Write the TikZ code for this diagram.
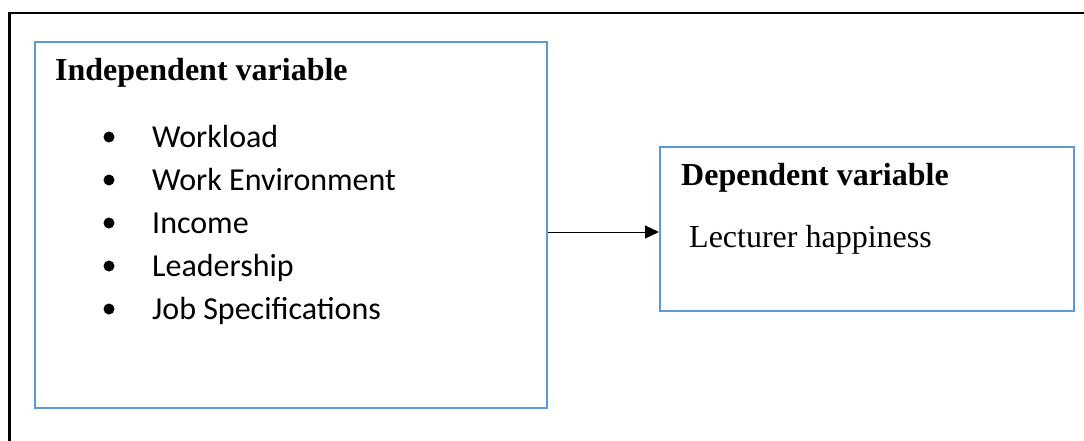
\documentclass[tikz,border=0pt]{standalone}
\usepackage{fontspec}
\setmainfont{Liberation Serif}
\newfontfamily\calibri{Carlito}
\usetikzlibrary{positioning,arrows.meta}
\definecolor{boxblue}{HTML}{5B9BD5}

\begin{document}
\begin{tikzpicture}[
x = 1pt, y = -1pt,
varbox/.style={
  draw=boxblue,
  line width=2pt,
  inner sep=0pt,
  anchor=north west
  },
heading/.style={
  anchor=base west,
  inner sep=0pt,
  font=\fontsize{32}{32}\selectfont\bfseries
  },
plaintext/.style={
  anchor=base west,
  inner sep=0pt,
  font=\fontsize{32}{32}\selectfont
  },
item/.style={
  anchor=base west,
  inner sep=0pt,
  font=\calibri\fontsize{32}{32}\selectfont
  },
>={Triangle[length=14pt,width=13pt]}
]

\useasboundingbox (0,0) rectangle (1084,441);

% outer frame
\draw[line width=2.5pt] (9.5,441) -- (9.5,13) -- (1084,13);

% boxes
\node[varbox, minimum width=512pt, minimum height=366pt] (indep) at (34,41) {};
\node[varbox, minimum width=414pt, minimum height=164pt] (dep) at (659,146) {};

\node[heading] (indephead) at (55,81) {Independent variable};
\node[heading] (dephead) at (681,185) {Dependent variable};
\node[plaintext] (lecturer) at (689,247) {Lecturer happiness};

\foreach \lbl [count=\i] in {Workload, Work Environment, Income, Leadership, Job Specifications}
{
  \node[item] (item\i) at (152,{147+43*(\i-1)}) {\lbl};
  \fill (109,{137+43*(\i-1)}) circle (5.5pt);
}

\draw[line width=1pt][->] ([yshift=-7pt]indep.east) -- ([yshift=-3pt]dep.west);

\end{tikzpicture}
\end{document}
